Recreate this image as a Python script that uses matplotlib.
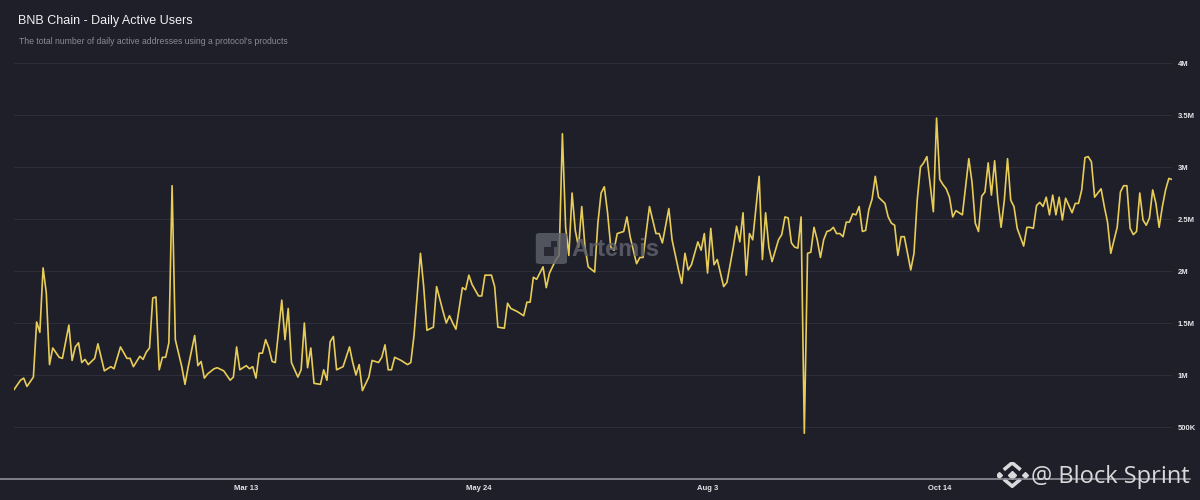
import numpy as np
import pandas as pd
import matplotlib
matplotlib.use("Agg")
import matplotlib.pyplot as plt
from matplotlib.patches import FancyBboxPatch, Rectangle

# day offsets from 2024-01-01 and daily active users (millions)
days = [0, 2, 3, 4, 6, 7, 8, 9, 10, 11, 12, 14, 15, 17, 18, 19, 20, 21, 22, 23,
        25, 26, 28, 30, 31, 33, 35, 36, 37, 39, 40, 41, 42, 43, 44, 45, 46, 47, 48, 49,
        50, 52, 53, 54, 56, 57, 58, 59, 60, 62, 63, 65, 67, 68, 69, 70, 72, 73, 74, 75,
        76, 77, 78, 79, 80, 81, 83, 84, 85, 86, 88, 89, 90, 91, 92, 93, 95, 96, 97, 98,
        99, 100, 102, 104, 105, 106, 107, 108, 110, 111, 113, 114, 115, 116, 117, 118, 120, 122, 123, 124,
        126, 127, 128, 130, 131, 133, 134, 135, 136, 137, 139, 140, 141, 142, 144, 145, 146, 148, 149, 150,
        152, 153, 154, 156, 158, 159, 160, 161, 162, 164, 165, 166, 168, 169, 170, 171, 172, 173, 174, 175,
        176, 177, 178, 180, 181, 182, 183, 184, 185, 186, 187, 189, 190, 191, 193, 194, 195, 197, 199, 200,
        201, 203, 204, 206, 207, 208, 209, 210, 212, 213, 214, 215, 216, 217, 218, 220, 221, 223, 224, 225,
        226, 227, 228, 229, 231, 232, 233, 234, 235, 237, 238, 239, 240, 241, 242, 243, 244, 245, 246, 247,
        248, 249, 250, 251, 252, 253, 254, 255, 256, 257, 258, 259, 260, 261, 262, 263, 264, 265, 266, 267,
        268, 269, 270, 271, 272, 273, 274, 275, 276, 278, 279, 280, 281, 282, 283, 285, 286, 287, 288, 289,
        290, 291, 292, 294, 296, 297, 298, 299, 300, 301, 302, 303, 304, 305, 306, 307, 308, 309, 310, 311,
        313, 314, 315, 316, 317, 318, 319, 320, 321, 322, 323, 324, 325, 326, 328, 329, 330, 331, 332, 333,
        334, 335, 337, 338, 339, 340, 342, 343, 344, 345, 346, 347, 348, 349, 350, 351, 352, 353, 354, 355,
        356, 357, 358, 359]
dau_m = [0.86, 0.95, 0.97, 0.89, 0.98, 1.51, 1.41, 2.03, 1.79, 1.10, 1.26, 1.17, 1.16, 1.48, 1.14, 1.27, 1.31, 1.12, 1.15, 1.10,
         1.16, 1.30, 1.04, 1.08, 1.06, 1.27, 1.16, 1.16, 1.08, 1.18, 1.15, 1.22, 1.26, 1.74, 1.75, 1.05, 1.17, 1.17, 1.31, 2.82,
         1.34, 1.08, 0.91, 1.08, 1.38, 1.09, 1.13, 0.97, 1.01, 1.06, 1.07, 1.04, 0.95, 0.98, 1.27, 1.05, 1.09, 1.06, 1.08, 0.97,
         1.21, 1.21, 1.34, 1.26, 1.13, 1.12, 1.72, 1.34, 1.64, 1.12, 0.98, 1.05, 1.50, 1.07, 1.26, 0.92, 0.91, 1.05, 0.95, 1.32,
         1.37, 1.05, 1.08, 1.27, 1.12, 1.00, 1.10, 0.85, 0.98, 1.14, 1.12, 1.17, 1.29, 1.05, 1.05, 1.17, 1.14, 1.10, 1.12, 1.38,
         2.17, 1.85, 1.43, 1.46, 1.85, 1.61, 1.50, 1.57, 1.50, 1.44, 1.84, 1.82, 1.96, 1.87, 1.76, 1.76, 1.96, 1.96, 1.85, 1.46,
         1.45, 1.69, 1.64, 1.61, 1.57, 1.70, 1.70, 1.94, 1.92, 2.04, 1.84, 1.98, 2.11, 2.15, 3.32, 2.42, 2.15, 2.75, 2.39, 2.23,
         2.62, 2.23, 2.04, 1.99, 2.46, 2.75, 2.81, 2.56, 2.23, 2.20, 2.36, 2.38, 2.52, 2.33, 2.07, 2.13, 2.13, 2.62, 2.36, 2.36,
         2.27, 2.60, 2.30, 2.01, 1.88, 2.17, 2.01, 2.06, 2.28, 2.20, 2.36, 1.98, 2.41, 2.06, 2.11, 1.85, 1.89, 2.23, 2.43, 2.28,
         2.56, 1.96, 2.36, 2.30, 2.91, 2.11, 2.56, 2.23, 2.09, 2.30, 2.35, 2.52, 2.51, 2.27, 2.23, 2.22, 2.52, 0.44, 2.17, 2.18,
         2.42, 2.30, 2.13, 2.30, 2.38, 2.39, 2.42, 2.36, 2.36, 2.33, 2.47, 2.47, 2.55, 2.54, 2.62, 2.38, 2.39, 2.59, 2.69, 2.91,
         2.71, 2.68, 2.65, 2.52, 2.46, 2.44, 2.15, 2.33, 2.33, 2.01, 2.17, 2.68, 3.00, 3.04, 3.10, 2.57, 3.47, 2.88, 2.83, 2.79,
         2.71, 2.52, 2.58, 2.54, 3.08, 2.85, 2.46, 2.38, 2.72, 2.76, 3.04, 2.73, 3.06, 2.68, 2.42, 2.68, 3.08, 2.68, 2.62, 2.41,
         2.24, 2.42, 2.42, 2.41, 2.63, 2.66, 2.62, 2.71, 2.54, 2.73, 2.54, 2.71, 2.49, 2.70, 2.56, 2.65, 2.65, 2.78, 3.09, 3.10,
         3.05, 2.71, 2.79, 2.62, 2.47, 2.17, 2.42, 2.76, 2.82, 2.82, 2.41, 2.35, 2.38, 2.75, 2.49, 2.44, 2.51, 2.78, 2.65, 2.42,
         2.62, 2.78, 2.89, 2.88]

tick_dates = ["2024-03-13", "2024-05-24", "2024-08-03", "2024-10-14"]
tick_names = ["Mar 13", "May 24", "Aug 3", "Oct 14"]
y_ticks = [500e3, 1e6, 1.5e6, 2e6, 2.5e6, 3e6, 3.5e6, 4e6]
y_names = ["500K", "1M", "1.5M", "2M", "2.5M", "3M", "3.5M", "4M"]

bg = "#1e1f29"
dates = pd.Timestamp("2024-01-01") + pd.to_timedelta(days, unit="D")
values = np.array(dau_m) * 1e6

plt.rcParams['font.family'] = ['Liberation Sans', 'DejaVu Sans']
fig = plt.figure(figsize=(12, 5), dpi=100, facecolor=bg)
ax = fig.add_axes([0.0117, 0.042, 0.965, 0.832], facecolor=bg)

ax.plot(dates, values, color="#e8cc58", lw=1.2, zorder=3)

ax.set_xlim(pd.Timestamp("2024-01-01"), dates[-1])
ax.set_ylim(0, 4e6)
ax.set_yticks(y_ticks)
ax.set_yticklabels(y_names)
ax.set_xticks(pd.to_datetime(tick_dates))
ax.set_xticklabels(tick_names)
ax.yaxis.tick_right()
ax.tick_params(axis="y", length=0, pad=4, labelsize=5.5, labelcolor="#e4e4e8")
ax.tick_params(axis="x", length=0, pad=4, labelsize=5.5, labelcolor="#e4e4e8")
for lab in ax.get_xticklabels() + ax.get_yticklabels():
    lab.set_fontweight("bold")
ax.grid(axis="y", color="#2d2e3a", lw=0.8)
ax.grid(axis="x", visible=False)
for s in ["top", "right", "left", "bottom"]:
    ax.spines[s].set_visible(False)
# baseline runs across the whole figure width
fig.add_artist(plt.Line2D([0.0, 0.992], [0.042, 0.042], color="#8e8f98", lw=1.2,
                          transform=fig.transFigure, zorder=2))

fig.text(0.015, 0.958, "BNB Chain - Daily Active Users", color="#f2f2f4",
         fontsize=9, va="center", ha="left")
fig.text(0.0155, 0.918, "The total number of daily active addresses using a protocol's products",
         color="#8a8b96", fontsize=6.2, va="center", ha="left")

# Artemis watermark
wm = "#5f616c"
fig.add_artist(FancyBboxPatch((0.4465, 0.472), 0.026, 0.062, boxstyle="round,pad=0,rounding_size=0.004",
                              transform=fig.transFigure, facecolor=wm, edgecolor="none", alpha=0.8, zorder=4))
fig.add_artist(Rectangle((0.4535, 0.488), 0.008, 0.018, transform=fig.transFigure,
                         facecolor=bg, edgecolor="none", alpha=0.8, zorder=5))
fig.add_artist(Rectangle((0.4595, 0.506), 0.005, 0.012, transform=fig.transFigure,
                         facecolor=bg, edgecolor="none", alpha=0.8, zorder=5))
fig.text(0.476, 0.502, "Artemis", color=wm, fontsize=17, fontweight="bold",
         ha="left", va="center", alpha=0.85, zorder=4)

# Block Sprint tag
lc = "#d9d9dc"
lax = fig.add_axes([0.8305, 0.025, 0.026, 0.052], facecolor="none")
lax.set_xlim(-1, 1)
lax.set_ylim(-1, 1)
lax.axis("off")
lax.plot([0], [0], marker="D", ms=4.5, color=lc, ls="none")
lax.plot([-0.85, 0.85], [0, 0], marker="D", ms=3, color=lc, ls="none")
lax.plot([-0.45, 0, 0.45], [0.45, 0.9, 0.45], color=lc, lw=2.6, solid_joinstyle="miter")
lax.plot([-0.45, 0, 0.45], [-0.45, -0.9, -0.45], color=lc, lw=2.6, solid_joinstyle="miter")
fig.text(0.859, 0.046, "@ Block Sprint", color=lc, fontsize=17, family="Open Sans",
         ha="left", va="center", zorder=6)

fig.savefig("out.png", dpi=100, facecolor=bg)
